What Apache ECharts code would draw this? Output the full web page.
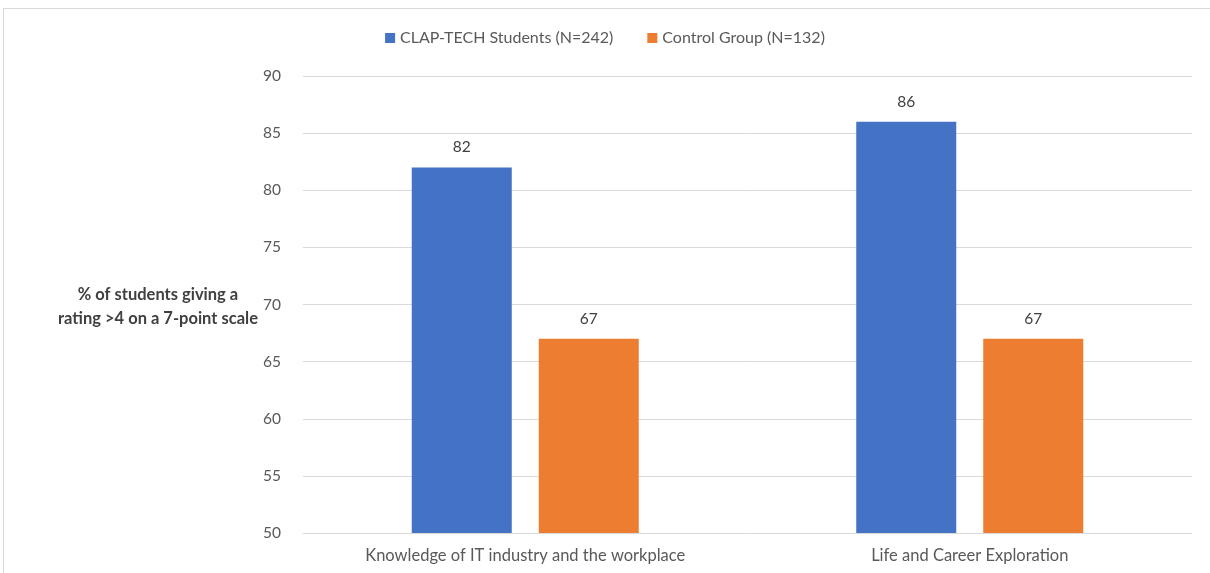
<!DOCTYPE html>
<html>
<head>
<meta charset="utf-8">
<script src="https://cdn.jsdelivr.net/npm/echarts@6/dist/echarts.min.js"></script>
<style>
  html, body { margin: 0; padding: 0; background: #fff; }
  #frame { position: absolute; left: 3px; top: 8px; width: 1220px; height: 580px; border: 1px solid #d9d9d9; box-sizing: border-box; }
  #chart { position: absolute; left: 0; top: 0; width: 1210px; height: 573px; }
</style>
</head>
<body>
<div id="frame"></div>
<div id="chart"></div>
<script>
// data
const categories = ["Knowledge of IT industry and the workplace", "Life and Career Exploration"];
const clapTech = [82, 86];
const control = [67, 67];
const seriesNames = ["CLAP-TECH Students (N=242)", "Control Group (N=132)"];

let chartDom = document.getElementById("chart");
let myChart = echarts.init(chartDom);
let font = "Lato, 'DejaVu Sans', sans-serif";

let option = {
  animation: false,
  color: ["#4472c4", "#ed7d31"],
  textStyle: { fontFamily: font },
  legend: {
    top: 25,
    left: "center",
    itemWidth: 10,
    itemHeight: 10,
    itemGap: 34,
    icon: "rect",
    textStyle: { fontSize: 16, color: "#595959", fontFamily: font },
    data: seriesNames,
  },
  grid: { left: 303, right: 18, top: 76, bottom: 40 },
  xAxis: {
    type: "category",
    data: categories,
    axisLine: { lineStyle: { color: "#d9d9d9" } },
    axisTick: { show: false },
    axisLabel: { fontSize: 16.5, color: "#595959", margin: 14 },
  },
  yAxis: {
    type: "value",
    min: 50,
    max: 90,
    interval: 5,
    axisLine: { show: false },
    axisTick: { show: false },
    splitLine: { lineStyle: { color: "#d9d9d9" } },
    axisLabel: { fontSize: 15.5, color: "#595959", margin: 22 },
  },
  graphic: [
    {
      type: "text",
      x: 158,
      y: 283,
      style: {
        text: "% of students giving a\nrating >4 on a 7-point scale",
        fontSize: 16.5,
        fontWeight: "bold",
        fill: "#404040",
        fontFamily: font,
        align: "center",
        lineHeight: 24,
      },
    },
  ],
  series: [
    {
      name: seriesNames[0],
      type: "bar",
      data: clapTech,
      barWidth: 100,
      barGap: "27%",
      label: { show: true, position: "top", distance: 12, fontSize: 15.5, color: "#404040" },
    },
    {
      name: seriesNames[1],
      type: "bar",
      data: control,
      barWidth: 100,
      label: { show: true, position: "top", distance: 12, fontSize: 15.5, color: "#404040" },
    },
  ],
};
option && myChart.setOption(option);
</script>
</body>
</html>
